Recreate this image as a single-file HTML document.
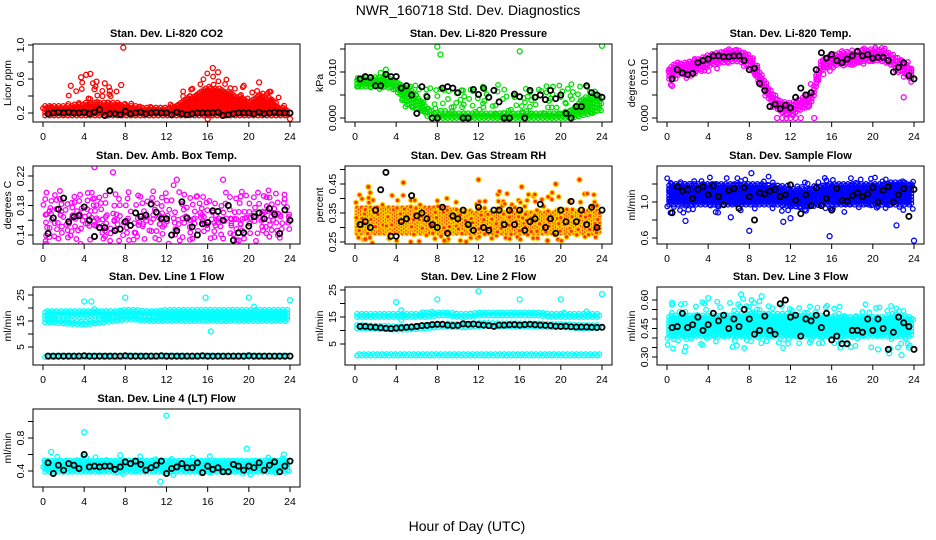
<!DOCTYPE html>
<html><head><meta charset="utf-8"><style>
html,body{margin:0;padding:0;background:#fff;}
svg{display:block;font-family:"Liberation Sans",sans-serif;}
</style></head><body>
<svg id="chart" width="936" height="540" viewBox="0 0 936 540" xmlns="http://www.w3.org/2000/svg">
<text x="468" y="15" text-anchor="middle" font-size="14">NWR_160718 Std. Dev. Diagnostics</text>
<text x="467" y="531" text-anchor="middle" font-size="14">Hour of Day (UTC)</text>
</svg>
<script>
const xTicks=[0,4,8,12,16,20,24];
// Panel 1: CO2
const co2Lo=[0.17,0.17,0.17,0.17,0.17,0.17,0.17,0.17,0.17,0.17,0.17,0.17,0.17,0.17,0.17,0.17,0.17,0.17,0.17,0.17,0.17,0.17,0.17,0.17,0.17];
const co2Hi=[0.28,0.28,0.28,0.3,0.32,0.33,0.32,0.32,0.3,0.28,0.27,0.26,0.26,0.3,0.38,0.42,0.5,0.5,0.45,0.4,0.35,0.42,0.38,0.28,0.24];
const co2SLo=[0.2,0.2,0.2,0.2,0.2,0.2,0.2,0.2,0.2,0.2,0.2,0.2,0.2,0.2,0.2,0.2,0.2,0.2,0.2,0.2,0.2,0.2,0.2,0.2,0.2];
const co2SHi=[0.32,0.35,0.4,0.5,0.58,0.58,0.5,0.5,0.4,0.33,0.3,0.3,0.28,0.4,0.5,0.55,0.65,0.68,0.58,0.5,0.45,0.52,0.48,0.35,0.28];
const co2Out=[[7.8,0.97],[2.7,0.52],[3.7,0.62],[4.2,0.65],[4.6,0.66],[5.2,0.57],[6,0.55],[7.6,0.53],[16.5,0.73],[17,0.68],[19.5,0.52],[21,0.56],[22,0.45],[16,0.13],[24,0.13],[5,0.48],[6.5,0.46]];
const co2Black=[0.19,0.2,0.21,0.2,0.21,0.2,0.2,0.21,0.19,0.21,0.24,0.17,0.19,0.19,0.18,0.22,0.19,0.2,0.21,0.19,0.2,0.21,0.2,0.2,0.18,0.21,0.19,0.18,0.19,0.2,0.2,0.2,0.2,0.21,0.17,0.18,0.19,0.2,0.2,0.2,0.19,0.21,0.19,0.2,0.21,0.2,0.2,0.2];
// Panel 2: Pressure
const prLo=[0.0068,0.0068,0.0068,0.0068,0.006,0.003,0.002,0.001,0,0,0,0,0,0,0,0,0,0,0,0,0,0,0.0005,0.001,0.002];
const prHi=[0.0085,0.0088,0.0088,0.0088,0.008,0.007,0.005,0.002,0.0012,0.0012,0.0012,0.0012,0.0012,0.0012,0.0012,0.0012,0.0012,0.0012,0.0012,0.0012,0.0012,0.0015,0.004,0.005,0.005];
const prSLo=[0.006,0.006,0.006,0.006,0.004,0.001,0.0005,0.0005,0.0005,0.0005,0.0005,0.0005,0.0005,0.0005,0.0005,0.0005,0.0005,0.0005,0.0005,0.0005,0.0005,0.0005,0.0005,0.0005,0.001];
const prSHi=[0.0095,0.0095,0.0095,0.0095,0.0085,0.007,0.007,0.007,0.007,0.007,0.007,0.007,0.007,0.007,0.007,0.007,0.007,0.007,0.007,0.007,0.007,0.007,0.007,0.007,0.007];
const prOut=[[8,0.0155],[8.3,0.0138],[16,0.0145],[24,0.0157],[3,0.0105],[2.5,0.0098]];
const prBlack=[0.0085,0.009,0.0088,0.007,0.007,0.0095,0.009,0.009,0.0065,0.007,0.005,0.001,0.0068,0.0046,0,0,0.0065,0.0068,0.0065,0.0055,0,0,0.0062,0.0051,0.0065,0.0045,0.006,0.0035,0,0,0.0052,0.0046,0,0.006,0.0045,0.005,0.004,0.006,0.0042,0.005,0.001,0,0.0025,0.0025,0.007,0.0055,0.005,0.0045];
// Panel 3: Temp
const tLo=[0.0083,0.0093,0.0098,0.0103,0.0113,0.0118,0.0123,0.0123,0.0113,0.0078,0.0038,0.0013,0.0008,0.0018,0.0028,0.0103,0.0113,0.0118,0.0116,0.0123,0.0126,0.0123,0.0113,0.0098,0.0078];
const tHi=[0.0107,0.0117,0.0122,0.0127,0.0137,0.0142,0.0147,0.0147,0.0137,0.0102,0.0062,0.0037,0.0032,0.0042,0.0052,0.0127,0.0137,0.0142,0.014,0.0147,0.015,0.0147,0.0137,0.0122,0.0102];
const tSLo=[0.007,0.008,0.0085,0.009,0.01,0.0105,0.011,0.011,0.01,0.0065,0.0025,0.0005,0,0.0005,0.0015,0.009,0.01,0.0105,0.0103,0.011,0.0113,0.011,0.01,0.0085,0.0065];
const tSHi=[0.0112,0.0122,0.0127,0.0132,0.0142,0.0147,0.0152,0.0152,0.0142,0.0107,0.0067,0.0042,0.0037,0.0047,0.0057,0.0132,0.0142,0.0147,0.0145,0.0152,0.0155,0.0152,0.0142,0.0127,0.0107];
const tOut=[[0.5,0.007],[23,0.0045],[10.7,0],[11.2,0],[11.6,0],[12,0],[12.5,0],[13,0],[14.3,0],[17,0.0145],[19,0.0148]];
const tBlack=[0.0085,0.0105,0.0098,0.0094,0.0097,0.012,0.0125,0.0128,0.0135,0.0135,0.0133,0.0133,0.0135,0.0135,0.0125,0.0105,0.0108,0.0075,0.006,0.0025,0.003,0.002,0.0028,0.0022,0.0045,0.0065,0.005,0.0055,0.0105,0.0142,0.013,0.0138,0.0125,0.012,0.0128,0.0135,0.0145,0.0135,0.0138,0.013,0.0132,0.0132,0.0125,0.01,0.011,0.012,0.0092,0.0085];
// Panel 4: Amb box temp
const abLo=[0.152,0.152,0.152,0.152,0.152,0.152,0.152,0.152,0.152,0.152,0.152,0.152,0.152,0.152,0.152,0.152,0.152,0.152,0.152,0.152,0.152,0.152,0.152,0.152,0.152];
const abHi=[0.172,0.172,0.172,0.172,0.172,0.172,0.172,0.172,0.172,0.172,0.172,0.172,0.172,0.172,0.172,0.172,0.172,0.172,0.172,0.172,0.172,0.172,0.172,0.172,0.172];
const abSLo=[0.13,0.13,0.13,0.13,0.13,0.13,0.13,0.13,0.13,0.13,0.13,0.13,0.13,0.13,0.13,0.13,0.13,0.13,0.13,0.13,0.13,0.13,0.13,0.13,0.13];
const abSHi=[0.2,0.2,0.2,0.2,0.2,0.2,0.2,0.2,0.2,0.2,0.2,0.21,0.21,0.21,0.2,0.2,0.2,0.2,0.2,0.2,0.2,0.2,0.2,0.2,0.2];
const abOut=[[5,0.232],[6.8,0.225],[0.3,0.128],[3.5,0.122],[13,0.215],[17.5,0.215],[12.2,0.128]];
const abBlack=[0.142,0.163,0.175,0.19,0.158,0.165,0.166,0.178,0.16,0.138,0.15,0.15,0.2,0.146,0.148,0.158,0.153,0.17,0.165,0.167,0.182,0.171,0.162,0.162,0.14,0.146,0.185,0.163,0.151,0.14,0.155,0.157,0.173,0.172,0.16,0.18,0.133,0.143,0.143,0.152,0.165,0.17,0.162,0.176,0.168,0.142,0.174,0.16];
// Panel 5: RH
const rhLo=[0.28,0.28,0.28,0.28,0.28,0.28,0.28,0.28,0.28,0.28,0.28,0.28,0.28,0.28,0.28,0.28,0.28,0.28,0.28,0.28,0.28,0.28,0.28,0.28,0.28];
const rhHi=[0.37,0.37,0.37,0.37,0.37,0.37,0.37,0.37,0.37,0.37,0.36,0.36,0.35,0.35,0.35,0.35,0.35,0.35,0.35,0.35,0.36,0.36,0.36,0.36,0.36];
const rhSLo=[0.25,0.25,0.25,0.25,0.25,0.25,0.25,0.25,0.25,0.25,0.25,0.25,0.25,0.25,0.25,0.25,0.25,0.25,0.25,0.25,0.25,0.25,0.25,0.25,0.25];
const rhSHi=[0.41,0.42,0.42,0.42,0.42,0.42,0.4,0.4,0.4,0.4,0.4,0.4,0.4,0.42,0.42,0.42,0.42,0.42,0.42,0.42,0.42,0.42,0.42,0.42,0.4];
const rhOut=[[4.7,0.455],[12,0.465],[21.8,0.465],[1.3,0.44],[8.7,0.255],[18.7,0.255],[1,0.26],[16.2,0.44],[19.5,0.45]];
const rhBlack=[0.31,0.32,0.3,0.36,0.43,0.49,0.27,0.27,0.32,0.33,0.41,0.34,0.35,0.33,0.31,0.3,0.37,0.28,0.34,0.33,0.36,0.31,0.29,0.37,0.3,0.29,0.36,0.36,0.31,0.36,0.31,0.36,0.29,0.32,0.33,0.38,0.3,0.33,0.28,0.36,0.32,0.39,0.32,0.36,0.31,0.37,0.3,0.36];
// Panel 6: Sample flow
const sfLo=[0.97,0.97,0.97,0.97,0.97,0.97,0.97,0.97,0.97,0.97,0.97,0.97,0.95,0.95,0.95,0.97,0.97,0.97,0.97,0.97,0.97,0.97,0.97,0.97,0.97];
const sfHi=[1.2,1.2,1.2,1.2,1.2,1.2,1.2,1.2,1.2,1.2,1.18,1.18,1.15,1.15,1.15,1.18,1.2,1.2,1.2,1.2,1.2,1.2,1.22,1.22,1.2];
const sfSLo=[0.88,0.88,0.88,0.88,0.88,0.88,0.88,0.88,0.88,0.88,0.88,0.88,0.88,0.88,0.88,0.88,0.88,0.88,0.88,0.88,0.88,0.88,0.88,0.88,0.88];
const sfSHi=[1.27,1.27,1.27,1.27,1.27,1.27,1.27,1.27,1.27,1.27,1.27,1.27,1.25,1.25,1.25,1.27,1.27,1.27,1.27,1.27,1.27,1.27,1.27,1.27,1.27];
const sfOut=[[8.2,1.32],[1.8,0.79],[6.2,0.83],[8,0.68],[11.3,0.78],[15.8,0.62],[24,0.57],[22.3,0.74],[12,0.82]];
const sfBlack=[0.88,1.17,1.12,1.14,1.04,1.14,1.17,1.08,1.18,1.06,0.97,1.13,1.15,0.93,1.16,1.06,0.8,1.1,1.09,1.12,1.14,1.06,1.08,1.19,1.02,0.87,1.08,0.96,1.16,0.96,1.04,0.91,1.15,1.02,1.01,1.07,1.1,1.06,1.09,1.16,1.0,1.13,1.17,1.0,1.08,1.15,0.84,1.14];
// Panel 7: Line 1
const l1ALo=[17,17,17,17,17,17,17,17,17.5,17.5,17,17,17.5,17.5,17.5,17.5,17.5,17.5,17.5,17.5,17.5,17.5,17.5,17.5,17.5];
const l1AHi=[19,19,19,19,19,19,19,19.3,19.5,19.5,19,19,19.5,19.5,19.5,19.5,19.5,19.5,19.5,19.5,19.5,19.5,19.5,19.5,19.5];
const l1BLo=[14.5,14.5,14,13.8,13.5,14,14.5,15,15.5,15.5,15,15,15,15,15,15,15,15,15,15,15,15,15,15,15];
const l1BHi=[16,16,15.5,15.3,15,15.5,16,16.5,17,17,16.5,16.5,17,17,17,17,17,17,17,17,17,17,17,17,16.5];
const l1CLo=[1.1,1.1,1.1,1.1,1.1,1.1,1.1,1.1,1.1,1.1,1.1,1.1,1.1,1.1,1.1,1.1,1.1,1.1,1.1,1.1,1.1,1.1,1.1,1.1,1.1];
const l1CHi=[1.9,1.9,1.9,1.9,1.9,1.9,1.9,1.9,1.9,1.9,1.9,1.9,1.9,1.9,1.9,1.9,1.9,1.9,1.9,1.9,1.9,1.9,1.9,1.9,1.9];
const l1Out=[[12,29],[4,22.5],[4.7,22.5],[8,24],[15.8,24],[20,24],[24,23],[16.3,11],[5,19.5],[20.5,20.5]];
const l1Black=[1.5,1.5,1.5,1.5,1.5,1.5,1.5,1.6,1.5,1.5,1.5,1.5,1.5,1.5,1.5,1.6,1.5,1.5,1.5,1.5,1.5,1.5,1.6,1.5,1.5,1.5,1.5,1.5,1.5,1.5,1.6,1.5,1.5,1.5,1.5,1.5,1.5,1.5,1.5,1.6,1.5,1.5,1.5,1.5,1.5,1.5,1.5,1.5];
// Panel 8: Line 2
const l2ALo=[15,15,15,15,15,15,15,15,15.5,15.5,15,15,15.5,15.5,15.5,15.5,15.5,15.5,15.5,15,15,15,15,15,15];
const l2AHi=[16.3,16.3,16.3,16.3,16.3,16.3,16.5,16.7,17,17,16.5,16.5,17,17,17,17,17,16.8,16.8,16.5,16.5,16.5,16.5,16.3,16.3];
const l2BLo=[10.8,10.8,10.6,10.5,10.3,10.3,10.5,10.8,11.2,11.4,11.2,11.2,11.6,11.6,11.5,11.5,11.5,11.4,11.4,11.2,11.2,11,10.8,10.8,10.8];
const l2BHi=[12,12,11.8,11.6,11.5,11.5,11.8,12,12.5,12.7,12.4,12.4,12.8,12.8,12.7,12.6,12.6,12.6,12.6,12.4,12.3,12.1,12,12,12];
const l2CLo=[0.7,0.7,0.7,0.7,0.7,0.7,0.7,0.7,0.7,0.7,0.7,0.7,0.7,0.7,0.7,0.7,0.7,0.7,0.7,0.7,0.7,0.7,0.7,0.7,0.7];
const l2CHi=[1.6,1.6,1.6,1.6,1.6,1.6,1.6,1.6,1.6,1.6,1.6,1.6,1.6,1.6,1.6,1.6,1.6,1.6,1.6,1.6,1.6,1.6,1.6,1.6,1.6];
const l2Out=[[4,20.5],[8,21.5],[12,24.5],[16,21.5],[20,21.5],[24,23.5],[4.5,17.5],[4.5,14],[20.3,16.5],[22.5,17]];
const l2Black=[11.5,11.5,11.3,11.2,11,10.8,10.7,10.9,11,11.2,11.3,11.5,11.8,11.9,12.2,12.3,12.3,12,11.8,11.9,12.5,12.3,12.4,12.2,12,11.8,11.5,12,12,12.1,12.2,12,12.2,12.3,12.1,12,11.9,11.8,11.6,11.5,11.6,11.4,11.3,11.3,11.3,11.2,11.1,11.2];
// Panel 9: Line 3
const l3Lo=[0.41,0.41,0.41,0.41,0.41,0.41,0.41,0.41,0.41,0.41,0.41,0.41,0.41,0.41,0.41,0.41,0.41,0.41,0.41,0.41,0.41,0.41,0.41,0.41,0.41];
const l3Hi=[0.52,0.52,0.52,0.52,0.52,0.52,0.52,0.53,0.53,0.53,0.53,0.53,0.53,0.52,0.52,0.52,0.51,0.51,0.51,0.51,0.51,0.51,0.51,0.51,0.51];
const l3SLo=[0.35,0.35,0.35,0.35,0.35,0.35,0.35,0.35,0.35,0.35,0.35,0.35,0.35,0.35,0.35,0.35,0.35,0.35,0.35,0.35,0.35,0.35,0.34,0.34,0.34];
const l3SHi=[0.58,0.58,0.58,0.59,0.6,0.6,0.6,0.6,0.6,0.6,0.58,0.58,0.58,0.58,0.58,0.58,0.57,0.57,0.57,0.57,0.57,0.57,0.57,0.57,0.57];
const l3Out=[[7.2,0.63],[9.2,0.62],[4,0.61],[0.5,0.585],[1.7,0.33],[22.8,0.31],[21.6,0.32],[20.5,0.34],[23.5,0.35]];
const l3Black=[0.455,0.46,0.53,0.455,0.47,0.51,0.44,0.47,0.53,0.49,0.52,0.45,0.5,0.46,0.55,0.5,0.42,0.44,0.515,0.44,0.42,0.58,0.6,0.51,0.52,0.41,0.5,0.49,0.52,0.455,0.53,0.39,0.41,0.37,0.37,0.44,0.44,0.43,0.5,0.44,0.5,0.45,0.34,0.43,0.51,0.48,0.46,0.34];
// Panel 10: Line 4
const l4Lo=[0.39,0.39,0.39,0.39,0.39,0.39,0.39,0.39,0.39,0.39,0.39,0.39,0.39,0.39,0.39,0.39,0.39,0.39,0.39,0.39,0.39,0.39,0.39,0.39,0.39];
const l4Hi=[0.52,0.52,0.52,0.52,0.52,0.52,0.52,0.52,0.52,0.52,0.52,0.52,0.52,0.52,0.52,0.52,0.52,0.52,0.52,0.52,0.52,0.52,0.52,0.52,0.52];
const l4SLo=[0.36,0.36,0.36,0.36,0.36,0.36,0.36,0.36,0.36,0.36,0.36,0.36,0.36,0.36,0.36,0.36,0.36,0.36,0.36,0.36,0.36,0.36,0.36,0.36,0.36];
const l4SHi=[0.56,0.56,0.56,0.56,0.56,0.56,0.56,0.56,0.56,0.56,0.56,0.56,0.56,0.56,0.56,0.56,0.56,0.56,0.56,0.56,0.56,0.56,0.56,0.56,0.56];
const l4Out=[[12,1.07],[4,0.87],[19.8,0.67],[11.4,0.27],[0.8,0.63],[7.5,0.59],[23.4,0.6]];
const l4Black=[0.5,0.37,0.47,0.41,0.49,0.47,0.43,0.6,0.45,0.46,0.45,0.46,0.46,0.42,0.45,0.51,0.49,0.52,0.48,0.41,0.44,0.47,0.52,0.37,0.43,0.45,0.49,0.44,0.44,0.5,0.38,0.46,0.42,0.44,0.39,0.39,0.48,0.46,0.41,0.46,0.44,0.5,0.41,0.47,0.51,0.39,0.46,0.52];

const tickCO2=[0.2,0.4,0.6,0.8,1.0], labCO2=["0.2","","0.6","","1.0"];
const tickPr=[0,0.005,0.01,0.015], labPr=["0.000","","0.010",""];
const tickAB=[0.14,0.16,0.18,0.20,0.22], labAB=["0.14","","0.18","","0.22"];
const tickRH=[0.25,0.30,0.35,0.40,0.45,0.50], labRH=["0.25","","0.35","","0.45",""];
const tickSF=[0.6,0.8,1.0,1.2], labSF=["0.6","","1.0",""];
const tickL1=[5,10,15,20,25], labL1=["5","","15","","25"];
const tickL3=[0.30,0.35,0.40,0.45,0.50,0.55,0.60], labL3=["0.30","","","0.45","","","0.60"];
const tickL4=[0.4,0.6,0.8,1.0], labL4=["0.4","","0.8",""];

const panels=[
 {name:"co2",title:"Stan. Dev. Li-820 CO2",ylab:"Licor ppm",c:0,r:0,v0:0.2,p0:113,v1:1.0,p1:45,ticks:tickCO2,labs:labCO2,color:"#ff0000",bands:[[co2Lo,co2Hi,1],[co2SLo,co2SHi,0]],out:co2Out,black:co2Black},
 {name:"pressure",title:"Stan. Dev. Li-820 Pressure",ylab:"kPa",c:1,r:0,v0:0,p0:118,v1:0.01,p1:72,ticks:tickPr,labs:labPr,color:"#00e000",bands:[[prLo,prHi,1],[prSLo,prSHi,0]],out:prOut,black:prBlack},
 {name:"temp",title:"Stan. Dev. Li-820 Temp.",ylab:"degrees C",c:2,r:0,v0:0,p0:118,v1:0.01,p1:72,ticks:tickPr,labs:labPr,color:"#ff00ff",bands:[[tLo,tHi,1],[tSLo,tSHi,0]],out:tOut,black:tBlack},
 {name:"amb-box-temp",title:"Stan. Dev. Amb. Box Temp.",ylab:"degrees C",c:0,r:1,v0:0.14,p0:235,v1:0.22,p1:176,ticks:tickAB,labs:labAB,color:"#ff00ff",bands:[[abLo,abHi,0],[abSLo,abSHi,0]],out:abOut,black:abBlack},
 {name:"gas-rh",title:"Stan. Dev. Gas Stream RH",ylab:"percent",c:1,r:1,v0:0.25,p0:242,v1:0.45,p1:184,ticks:tickRH,labs:labRH,color:"#ffd000",fill:"#ff3000",bands:[[rhLo,rhHi,1],[rhSLo,rhSHi,0]],out:rhOut,black:rhBlack},
 {name:"sample-flow",title:"Stan. Dev. Sample Flow",ylab:"ml/min",c:2,r:1,v0:0.6,p0:238,v1:1.0,p1:202,ticks:tickSF,labs:labSF,color:"#0000ff",bands:[[sfLo,sfHi,1],[sfSLo,sfSHi,0]],out:sfOut,black:sfBlack},
 {name:"line1-flow",title:"Stan. Dev. Line 1 Flow",ylab:"ml/min",c:0,r:2,v0:5,p0:347,v1:25,p1:295,ticks:tickL1,labs:labL1,color:"#00ffff",bands:[[l1ALo,l1AHi,1],[l1BLo,l1BHi,1],[l1CLo,l1CHi,1]],out:l1Out,black:l1Black},
 {name:"line2-flow",title:"Stan. Dev. Line 2 Flow",ylab:"ml/min",c:1,r:2,v0:5,p0:344,v1:25,p1:290,ticks:tickL1,labs:labL1,color:"#00ffff",bands:[[l2ALo,l2AHi,1],[l2BLo,l2BHi,1],[l2CLo,l2CHi,1]],out:l2Out,black:l2Black},
 {name:"line3-flow",title:"Stan. Dev. Line 3 Flow",ylab:"ml/min",c:2,r:2,v0:0.30,p0:357,v1:0.60,p1:300,ticks:tickL3,labs:labL3,color:"#00ffff",bands:[[l3Lo,l3Hi,1],[l3SLo,l3SHi,0]],out:l3Out,black:l3Black},
 {name:"line4-flow",title:"Stan. Dev. Line 4 (LT) Flow",ylab:"ml/min",c:0,r:3,v0:0.4,p0:471,v1:0.8,p1:438,ticks:tickL4,labs:labL4,color:"#00ffff",bands:[[l4Lo,l4Hi,1],[l4SLo,l4SHi,0]],out:l4Out,black:l4Black}
];
const NS="http://www.w3.org/2000/svg";
const svg=document.getElementById('chart');
function mk(tag,attrs,parent){const e=document.createElementNS(NS,tag);for(const k in attrs)e.setAttribute(k,attrs[k]);parent.appendChild(e);return e;}
function hash(a,b){let h=(a*374761393+b*668265263)|0;h=(h^(h>>>13))*1274126177|0;return ((h^(h>>>16))>>>0)/4294967296;}
const boxTops=[44,166,287,409], boxH=78, boxLefts=[33,345,657], boxW=267;
function interp(arr,h){const i=Math.min(23,Math.floor(h));const f=h-i;return arr[i]*(1-f)+arr[i+1]*f;}
panels.forEach((p,pi)=>{
  const L=boxLefts[p.c], T=boxTops[p.r], B=T+boxH, R=L+boxW;
  const xs=h=>L+10+h*(247/24);
  const ys=v=>p.p0+(v-p.v0)*(p.p1-p.p0)/(p.v1-p.v0);
  const g=mk('g',{},svg);
  
  
  const clip=mk('clipPath',{id:'clip-'+p.name},g);
  mk('rect',{x:L,y:T,width:boxW,height:boxH},clip);
  const pts=mk('g',{'clip-path':'url(#clip-'+p.name+')'},g);
  
  
  const cAttr={fill:p.fill||'none',stroke:p.color,'stroke-width':1.3};
  p.bands.forEach((b,bi)=>{
    const dense=b[2]===1, dx=dense?0.22:0.5, dy=dense?3.2:7;
    let col=0;
    for(let h=0.2;h<=23.95;h+=dx,col++){
      const ya=ys(interp(b[0],h)), yb=ys(interp(b[1],h));
      const top=Math.min(ya,yb), bot=Math.max(ya,yb);
      let row=0;
      for(let y=bot-(dense?(col%2)*1.5:hash(col,pi*7+bi)*dy);y>=top-0.5;y-=dy,row++){
        let cx=xs(h), cy=y;
        if(!dense){
          const r1=hash(col*13+row,pi*31+bi), r2=hash(row*17+col,pi*29+bi+5);
          if(r1<0.3) continue;
          cx+= (r2-0.5)*5; cy+=(r1-0.65)*5;
        }
        const c=mk('circle',Object.assign({cx:cx.toFixed(1),cy:cy.toFixed(1),r:2.3},cAttr),pts);
        
        
      }
    }
  });
  p.out.forEach(o=>{
    const c=mk('circle',Object.assign({cx:xs(o[0]).toFixed(1),cy:ys(o[1]).toFixed(1),r:2.5},cAttr),pts);
    
    
  });
  p.black.forEach((v,i)=>{
    const c=mk('circle',{cx:xs(0.5+i*0.5).toFixed(1),cy:ys(v).toFixed(1),r:2.6,fill:'none',stroke:'#000','stroke-width':1.8},pts);
    
    
  });
  const box=mk('rect',{x:L,y:T,width:boxW,height:boxH,fill:'none',stroke:'#000','stroke-width':1},g);
  
  
  const tt=mk('text',{x:L+boxW/2,y:T-7,'text-anchor':'middle','font-size':11,'font-weight':'bold'},g);
  tt.textContent=p.title;
  
  
  const xa=mk('g',{},g);
  
  
  mk('line',{x1:xs(0),x2:xs(24),y1:B,y2:B,stroke:'#000'},xa);
  xTicks.forEach(t=>{
    mk('line',{x1:xs(t),x2:xs(t),y1:B,y2:B+5,stroke:'#000'},xa);
    const tx=mk('text',{x:xs(t),y:B+18,'text-anchor':'middle','font-size':10.5},xa);
    tx.textContent=String(t);
    
    
  });
  const ya=mk('g',{},g);
  
  
  const inT=p.ticks.filter(t=>ys(t)>=T-0.5&&ys(t)<=B+0.5);
  mk('line',{x1:L,x2:L,y1:ys(inT[0]),y2:ys(inT[inT.length-1]),stroke:'#000'},ya);
  p.ticks.forEach((t,i)=>{
    const y=ys(t); if(y<T-0.5||y>B+0.5) return;
    mk('line',{x1:L-5,x2:L,y1:y,y2:y,stroke:'#000'},ya);
    if(p.labs[i]){
      const tx=mk('text',{x:L-9,y:y,'text-anchor':'middle','font-size':10.5,transform:'rotate(-90 '+(L-9)+' '+y+')'},ya);
      tx.textContent=p.labs[i];
      
      
    }
  });
  const yl=mk('text',{x:L-22,y:T+boxH/2,'text-anchor':'middle','font-size':10.5,transform:'rotate(-90 '+(L-22)+' '+(T+boxH/2)+')'},g);
  yl.textContent=p.ylab;
  
  
});
</script>
</body></html>
